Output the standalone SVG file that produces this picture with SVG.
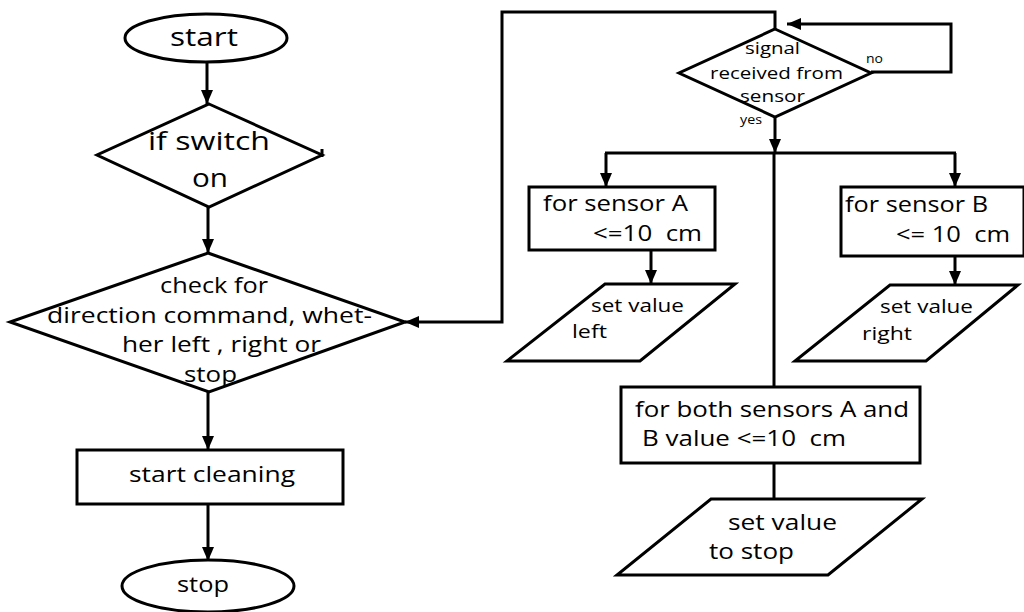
<svg xmlns="http://www.w3.org/2000/svg" width="1024" height="612" viewBox="0 0 1024 612">
<defs>
<marker id="ah" viewBox="0 0 14 12" refX="14" refY="6" markerWidth="14" markerHeight="12" markerUnits="userSpaceOnUse" orient="auto">
<path d="M0,0 L14,6 L0,12 Z" fill="#000"/>
</marker>
</defs>
<style>
.s{fill:#fff;stroke:#000;stroke-width:3}
.c{fill:none;stroke:#000;stroke-width:3}
text{font-family:"Open Sans","Liberation Sans",sans-serif;fill:#000;white-space:pre}
.sm{font-size:12px}
</style>
<rect width="1024" height="612" fill="#fff"/>
<g id="connectors">
<line class="c" x1="207" y1="63" x2="207" y2="104" marker-end="url(#ah)"/>
<line class="c" x1="208" y1="207" x2="208" y2="253" marker-end="url(#ah)"/>
<line class="c" x1="208" y1="392" x2="208" y2="450" marker-end="url(#ah)"/>
<line class="c" x1="208" y1="504" x2="208" y2="561" marker-end="url(#ah)"/>
<polyline class="c" points="775,29 775,12 502,12 502,322 405,322" marker-end="url(#ah)"/>
<polyline class="c" points="871,72 951,72 951,24 787,24" marker-end="url(#ah)"/>
<line class="c" x1="775" y1="117" x2="775" y2="153" marker-end="url(#ah)"/>
<line class="c" x1="605" y1="153" x2="956" y2="153"/>
<line class="c" x1="606" y1="153" x2="606" y2="187" marker-end="url(#ah)"/>
<line class="c" x1="955" y1="153" x2="955" y2="187" marker-end="url(#ah)"/>
<line class="c" x1="774" y1="153" x2="774" y2="387"/>
<line class="c" x1="651" y1="250" x2="651" y2="284" marker-end="url(#ah)"/>
<line class="c" x1="955" y1="256" x2="955" y2="285" marker-end="url(#ah)"/>
<line class="c" x1="774" y1="463" x2="774" y2="500"/>
</g>
<g id="start">
<ellipse class="s" cx="206" cy="38" rx="81" ry="24"/>
<text x="170" y="46" font-size="26" textLength="68" lengthAdjust="spacingAndGlyphs">start</text>
</g>
<g id="switch">
<polygon class="s" points="209,104 322,155 209,207 97,155"/>
<line class="c" x1="322" y1="149" x2="322" y2="157" stroke-width="1.5"/>
<text x="148" y="150" font-size="26" textLength="122" lengthAdjust="spacingAndGlyphs">if switch</text>
<text x="192" y="187" font-size="26" textLength="36" lengthAdjust="spacingAndGlyphs">on</text>
</g>
<g id="check">
<polygon class="s" points="208,253 405,322 209,392 10,322"/>
<text x="160" y="293" font-size="22" textLength="108" lengthAdjust="spacingAndGlyphs">check for</text>
<text x="47" y="323" font-size="22" textLength="325" lengthAdjust="spacingAndGlyphs">direction command, whet-</text>
<text x="122" y="352" font-size="22" textLength="199" lengthAdjust="spacingAndGlyphs">her left , right or</text>
<text x="184" y="382" font-size="22" textLength="53" lengthAdjust="spacingAndGlyphs">stop</text>
</g>
<g id="cleaning">
<rect class="s" x="77" y="450" width="266" height="54"/>
<text x="129" y="482" font-size="22" textLength="166" lengthAdjust="spacingAndGlyphs">start cleaning</text>
</g>
<g id="stop">
<ellipse class="s" cx="208" cy="586" rx="86" ry="26"/>
<text x="177" y="592" font-size="22" textLength="52" lengthAdjust="spacingAndGlyphs">stop</text>
</g>
<g id="signal">
<polygon class="s" points="775,29 871,73 775,117 679,73"/>
<text x="745" y="54" font-size="17" textLength="55" lengthAdjust="spacingAndGlyphs">signal</text>
<text x="710" y="79" font-size="17" textLength="133" lengthAdjust="spacingAndGlyphs">received from</text>
<text x="740" y="102" font-size="17" textLength="65" lengthAdjust="spacingAndGlyphs">sensor</text>
<text class="sm" x="866" y="63" textLength="17" lengthAdjust="spacingAndGlyphs">no</text>
<text class="sm" x="740" y="124" textLength="22" lengthAdjust="spacingAndGlyphs">yes</text>
</g>
<g id="sensorA">
<rect class="s" x="529" y="187" width="186" height="63"/>
<text x="543" y="211" font-size="21" textLength="145" lengthAdjust="spacingAndGlyphs">for sensor A</text>
<text x="593" y="241" font-size="21" textLength="109" lengthAdjust="spacingAndGlyphs">&lt;=10  cm</text>
</g>
<g id="sensorB">
<rect class="s" x="841" y="187" width="183" height="69"/>
<text x="845" y="212" font-size="21" textLength="143" lengthAdjust="spacingAndGlyphs">for sensor B</text>
<text x="896" y="242" font-size="21" textLength="114" lengthAdjust="spacingAndGlyphs">&lt;= 10  cm</text>
</g>
<g id="left">
<polygon class="s" points="605,284 735,284 640,361 507,361"/>
<text x="591" y="312" font-size="19" textLength="93" lengthAdjust="spacingAndGlyphs">set value</text>
<text x="572" y="338" font-size="19" textLength="35" lengthAdjust="spacingAndGlyphs">left</text>
</g>
<g id="right">
<polygon class="s" points="890,285 1018,285 926,361 795,361"/>
<text x="880" y="313" font-size="19" textLength="93" lengthAdjust="spacingAndGlyphs">set value</text>
<text x="862" y="340" font-size="19" textLength="50" lengthAdjust="spacingAndGlyphs">right</text>
</g>
<g id="both">
<rect class="s" x="621" y="387" width="299" height="76"/>
<text x="635" y="417" font-size="21" textLength="274" lengthAdjust="spacingAndGlyphs">for both sensors A and</text>
<text x="642" y="446" font-size="21" textLength="204" lengthAdjust="spacingAndGlyphs">B value &lt;=10  cm</text>
</g>
<g id="tostop">
<polygon class="s" points="711,499 922,499 828,575 617,575"/>
<text x="728" y="530" font-size="21" textLength="109" lengthAdjust="spacingAndGlyphs">set value</text>
<text x="709" y="559" font-size="21" textLength="85" lengthAdjust="spacingAndGlyphs">to stop</text>
</g>
</svg>
